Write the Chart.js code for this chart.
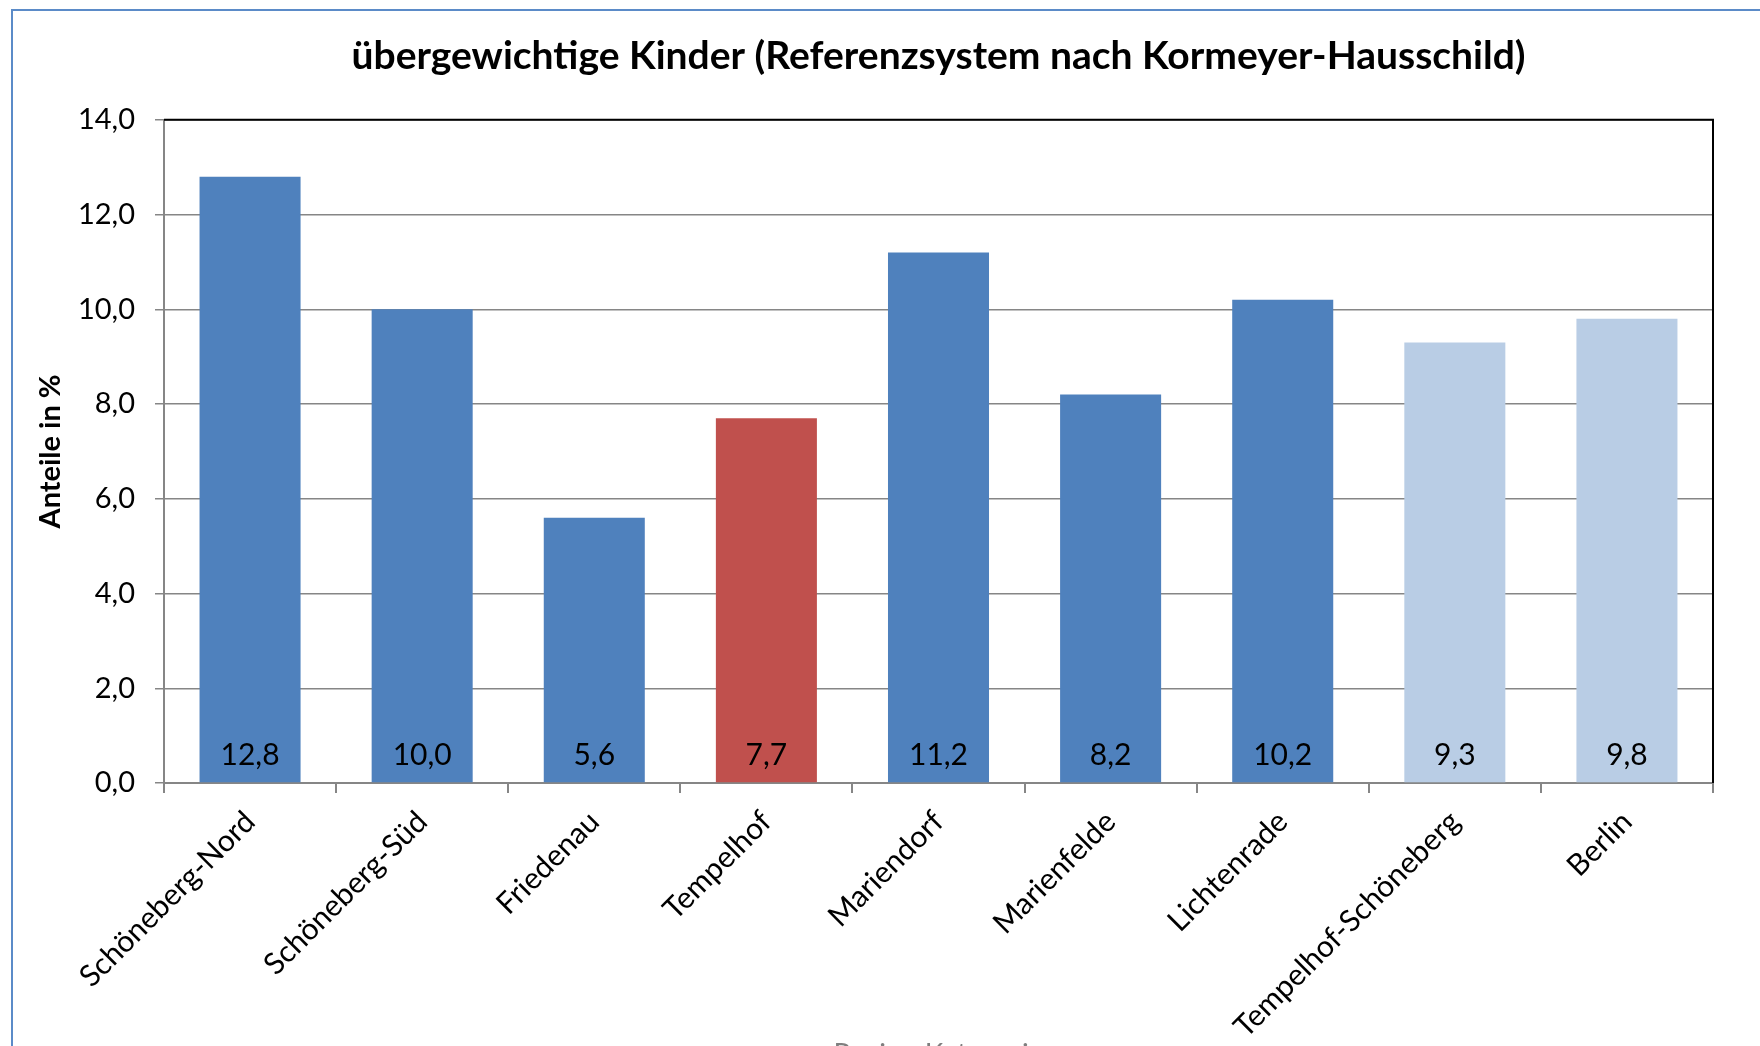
<!DOCTYPE html>
<html>
<head>
<meta charset="utf-8">
<script src="https://cdn.jsdelivr.net/npm/chart.js@4/dist/chart.umd.min.js"></script>
<style>
    html, body { margin: 0; padding: 0; background: #fff; overflow: hidden; }
    .frame {
        position: absolute; left: 11px; top: 9px; width: 1800px; height: 1100px;
        border: 2px solid #5b8bc8;
    }
    .chart-box { position: absolute; left: 0; top: 0; width: 1760px; height: 1080px; }
</style>
</head>
<body>
<div class="frame"></div>
<div class="chart-box"><canvas id="chart-canvas" width="1760" height="1080"></canvas></div>
<script>
const categories = ["Schöneberg-Nord", "Schöneberg-Süd", "Friedenau", "Tempelhof", "Mariendorf",
    "Marienfelde", "Lichtenrade", "Tempelhof-Schöneberg", "Berlin"];
const shares = [12.8, 10.0, 5.6, 7.7, 11.2, 8.2, 10.2, 9.3, 9.8];
const yTicks = [0, 2, 4, 6, 8, 10, 12, 14];

const barColors = ["#4f81bd", "#4f81bd", "#4f81bd", "#c0504d", "#4f81bd",
    "#4f81bd", "#4f81bd", "#b9cde5", "#b9cde5"];

const FONT = "Lato, 'Open Sans', sans-serif";

function fmt(v) {
    return v.toFixed(1).replace(".", ",");
}

// values written at the foot of each bar
const barLabels = {
    id: "barLabels",
    afterDatasetsDraw: function(chart) {
        const ctx = chart.ctx;
        const meta = chart.getDatasetMeta(0);
        const base = chart.scales.y.getPixelForValue(0);
        ctx.save();
        ctx.font = "30px " + FONT;
        ctx.fillStyle = "#000";
        ctx.textAlign = "center";
        ctx.textBaseline = "middle";
        meta.data.forEach(function(bar, i) {
            ctx.fillText(fmt(shares[i]), bar.x, base - 28);
        });
        ctx.restore();
    }
};

// black top and right edge of the plot area
const plotFrame = {
    id: "plotFrame",
    afterDraw: function(chart) {
        const a = chart.chartArea;
        const ctx = chart.ctx;
        ctx.save();
        ctx.strokeStyle = "#000";
        ctx.lineWidth = 2;
        ctx.beginPath();
        ctx.moveTo(a.left, a.top);
        ctx.lineTo(a.right, a.top);
        ctx.lineTo(a.right, a.bottom);
        ctx.stroke();
        ctx.restore();
    }
};

const canvas = document.getElementById("chart-canvas");
new Chart(canvas, {
    type: "bar",
    data: {
        labels: categories,
        datasets: [{
            data: shares,
            backgroundColor: barColors,
            borderWidth: 0,
            categoryPercentage: 1,
            barPercentage: 0.587
        }]
    },
    options: {
        responsive: false,
        animation: false,
        layout: { padding: { left: 0, right: 47, top: 0, bottom: 0 } },
        plugins: {
            legend: { display: false },
            tooltip: { enabled: false },
            title: {
                display: true,
                fullSize: false,
                text: "übergewichtige Kinder (Referenzsystem nach Kormeyer-Hausschild)",
                color: "#000",
                font: { family: FONT, size: 39, weight: "bold" },
                padding: { top: 33, bottom: 40 }
            }
        },
        scales: {
            x: {
                afterFit: function(scale) { scale.height = 297; },
                grid: {
                    offset: true,
                    drawOnChartArea: false,
                    drawTicks: true,
                    tickLength: 10,
                    color: "#868686",
                    lineWidth: 2
                },
                border: { color: "#868686", width: 2 },
                ticks: {
                    minRotation: 45,
                    maxRotation: 45,
                    autoSkip: false,
                    padding: 11,
                    color: "#000",
                    font: { family: FONT, size: 30 }
                },
                title: {
                    display: true,
                    text: "Region Kategorie",
                    color: "#7f7f7f",
                    font: { family: FONT, size: 28 },
                    padding: { top: 0, bottom: 8 }
                }
            },
            y: {
                min: 0,
                max: 14,
                afterFit: function(scale) { scale.width = 164; },
                afterBuildTicks: function(scale) {
                    scale.ticks = yTicks.map(function(v) { return { value: v }; });
                },
                grid: {
                    color: "#868686",
                    lineWidth: 1.5,
                    drawTicks: true,
                    tickLength: 9
                },
                border: { color: "#868686", width: 2 },
                ticks: {
                    padding: 20,
                    color: "#000",
                    font: { family: FONT, size: 29 },
                    callback: function(v) { return fmt(v); }
                },
                title: {
                    display: true,
                    text: "Anteile in %",
                    color: "#000",
                    font: { family: FONT, size: 29, weight: "bold" },
                    padding: { top: 33, bottom: 0 }
                }
            }
        }
    },
    plugins: [barLabels, plotFrame]
});
</script>
</body>
</html>
